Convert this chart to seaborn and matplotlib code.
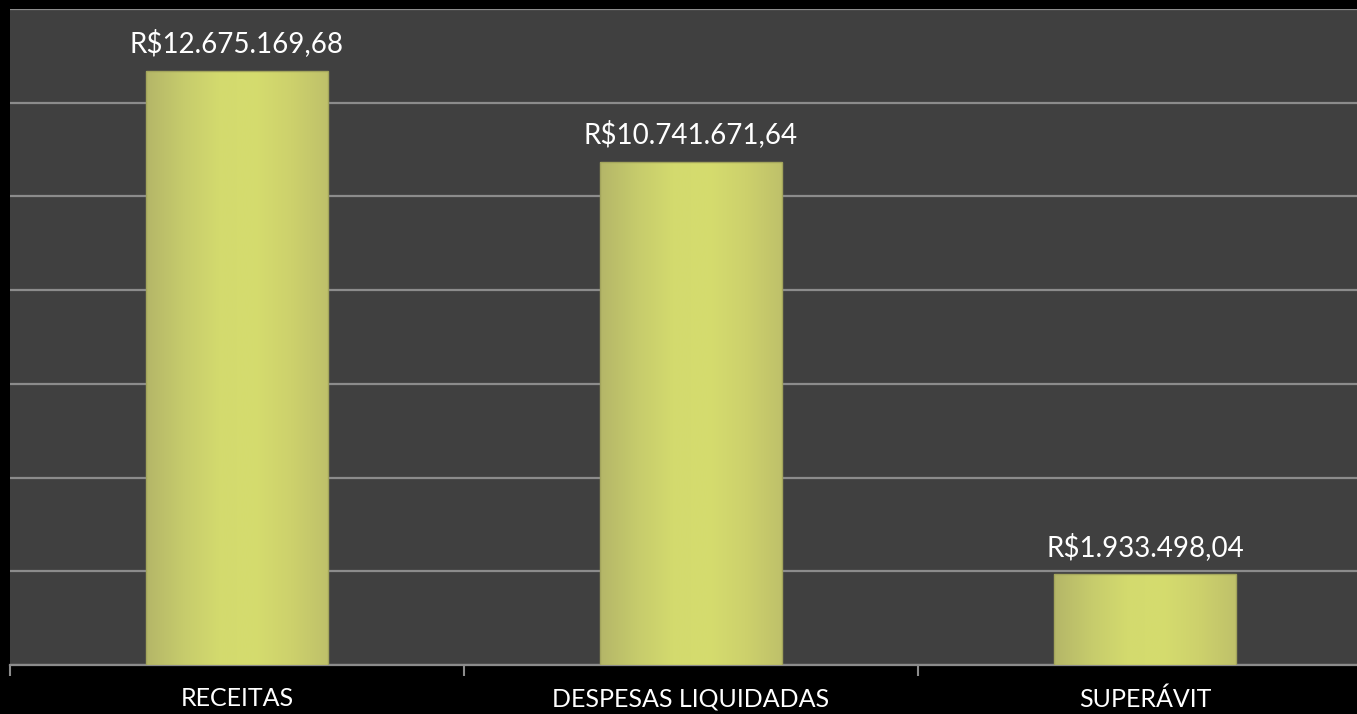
import numpy as np
import pandas as pd
import seaborn as sns
import matplotlib.pyplot as plt
from matplotlib.colors import LinearSegmentedColormap

categorias = ["RECEITAS", "DESPESAS LIQUIDADAS", "SUPERÁVIT"]
valores = [12675169.68, 10741671.64, 1933498.04]
rotulos = ["R$12.675.169,68", "R$10.741.671,64", "R$1.933.498,04"]

df = pd.DataFrame({"categoria": categorias, "valor": valores})

sns.set_theme(style="dark")
plt.rcParams["font.family"] = ["Lato", "DejaVu Sans"]

fig = plt.figure(figsize=(13.57, 7.14), dpi=100, facecolor="black")
ax = fig.add_axes([10 / 1357, 49 / 714, 1362 / 1357, 656 / 714])
ax.set_facecolor("#404040")

sns.barplot(data=df, x="categoria", y="valor", color="#d2d86c", width=0.4,
            saturation=1, ax=ax, zorder=3)

# gradiente suave em cada barra
cmap = LinearSegmentedColormap.from_list(
    "barra", ["#b4b668", "#c6cb6c", "#d3da6e", "#d5dc6e", "#cdd16c", "#bfc16a"])
grad = np.linspace(0, 1, 256).reshape(1, -1)
for p in ax.patches:
    x0, y0 = p.get_x(), p.get_y()
    w, h = p.get_width(), p.get_height()
    im = ax.imshow(grad, cmap=cmap, aspect="auto", extent=[x0, x0 + w, y0, y0 + h],
                   zorder=4, interpolation="bicubic")
    im.set_clip_path(p)
    p.set_edgecolor("#a3a55c")
    p.set_linewidth(1.0)
    p.set_zorder(5)
    p.set_facecolor("none")

for i, (v, r) in enumerate(zip(valores, rotulos)):
    ax.annotate(r, (i, v), xytext=(0, 20), textcoords="offset points",
                ha="center", va="center", color="white", fontsize=20)

ax.set_xlim(-0.5, 2.5)
ax.set_ylim(0, 14000000)
ax.set_yticks(np.arange(0, 14000001, 2000000))
ax.set_yticklabels([])
ax.tick_params(axis="y", length=0)
ax.yaxis.grid(True, color="#8c8c8c", linewidth=1.6, zorder=0)
ax.xaxis.grid(False)
ax.set_axisbelow(True)

ax.set_xticks([0, 1, 2])
ax.set_xticklabels(categorias, color="white", fontsize=18)
ax.tick_params(axis="x", length=0, pad=16)
ax.set_xticks([-0.5, 0.5, 1.5, 2.5], minor=True)
ax.tick_params(axis="x", which="minor", length=8, width=1.5, color="#8c8c8c", bottom=True)
ax.set_xlabel("")
ax.set_ylabel("")

for s in ["top", "right", "left"]:
    ax.spines[s].set_visible(False)
ax.spines["bottom"].set_color("#8c8c8c")
ax.spines["bottom"].set_linewidth(1.6)

fig.savefig("out.png", dpi=100, facecolor="black")
